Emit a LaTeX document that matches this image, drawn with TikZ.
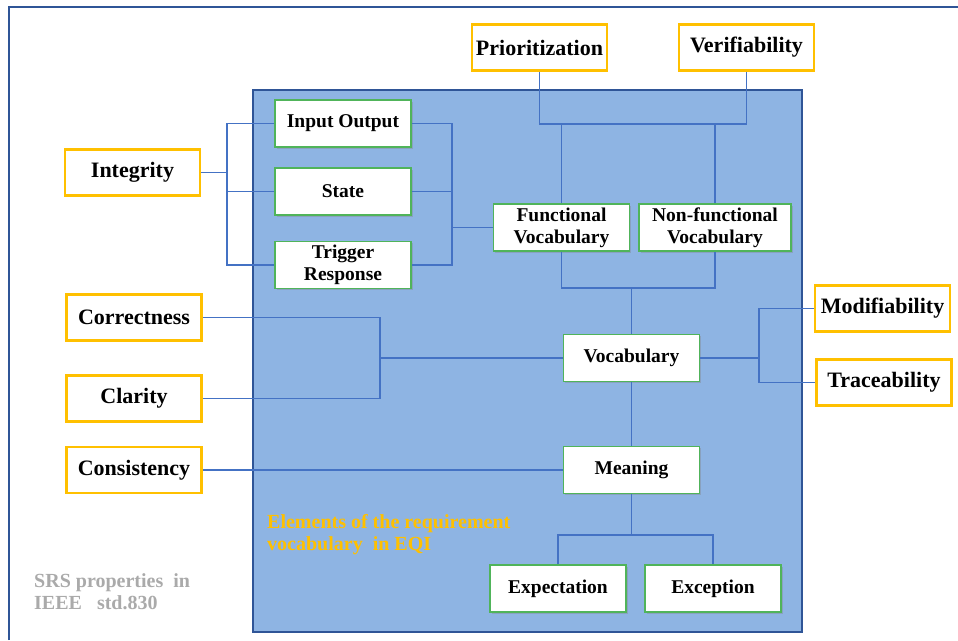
\documentclass[tikz,border=0pt]{standalone}
\usepackage{fontspec}
\setmainfont{Liberation Serif}
\usetikzlibrary{shadows}

\definecolor{propline}{RGB}{255,192,0}
\definecolor{elemline}{RGB}{80,180,90}
\definecolor{eqifill}{RGB}{142,180,227}
\definecolor{eqiline}{RGB}{47,85,151}
\definecolor{linkcol}{RGB}{68,114,196}
\definecolor{srsgray}{RGB}{170,170,170}

\begin{document}
\begin{tikzpicture}[x=1pt,y=-1pt,
                    propbox/.style={rectangle,
                                    draw=propline, line width=2.5pt,
                                    fill=white,
                                    minimum width=135pt, minimum height=46pt,
                                    inner sep=0pt,
                                    font=\fontsize{22}{24}\selectfont\bfseries
                                    },
                    elembox/.style={rectangle,
                                    draw=elemline, line width=1.6pt,
                                    fill=white,
                                    drop shadow={shadow xshift=1.5pt,shadow yshift=-1.5pt,opacity=0.35},
                                    minimum width=136pt, minimum height=47pt,
                                    inner sep=0pt, align=center,
                                    font=\fontsize{19.5}{22}\selectfont\bfseries
                                    },
                    link/.style={
                                    draw=linkcol,
                                    line width=1.4pt
                                    }
                     ]
\useasboundingbox (0,0) rectangle (958,640);
% frame and EQI area
\draw[eqiline, line width=2.2pt] (9,640) |- (958,7);
\draw[eqiline, line width=2.5pt, fill=eqifill] (253,90) rectangle (802,632);

% SRS properties
\node[propbox] (prio) at (539.5,47.5) {Prioritization};
\node[propbox] (verif) at (746.5,47.5) {Verifiability};
\node[propbox] (integ) at (132.5,172.5) {Integrity};
\node[propbox] (correct) at (134,317.5) {Correctness};
\node[propbox] (clarity) at (134,398.5) {Clarity};
\node[propbox] (consist) at (134,470) {Consistency};
\node[propbox] (modif) at (882.5,308.5) {Modifiability};
\node[propbox] (trace) at (884,382.5) {Traceability};

% vocabulary elements
\node[elembox] (inout) at (343,123.5) {Input Output};
\node[elembox] (state) at (343,191.5) {State};
\node[elembox] (trigresp) at (343,265) {Trigger\\Response};
\node[elembox] (func) at (561.5,227.5) {Functional\\Vocabulary};
\node[elembox,minimum width=152pt] (nonfunc) at (715,227.5) {Non-functional\\Vocabulary};
\node[elembox] (vocab) at (631.5,358) {Vocabulary};
\node[elembox] (meaning) at (631.5,470) {Meaning};
\node[elembox] (expect) at (558,588.5) {Expectation};
\node[elembox] (except) at (713,588.5) {Exception};

\node[anchor=north west,align=left,text=propline,inner sep=0pt,
      font=\fontsize{20}{22}\selectfont\bfseries] (eqilabel) at (267,514)
      {Elements of the requirement\\vocabulary~ in EQI};
\node[anchor=north west,align=left,text=srsgray,inner sep=0pt,
      font=\fontsize{20}{22}\selectfont\bfseries] (srslabel) at (34,573)
      {SRS properties~ in\\IEEE~~ std.830};

% bus points
\coordinate (ibus) at (227,172.5);
\coordinate (fbus) at (452,227.5);
\coordinate (pvbus) at (643,124);
\coordinate (fnbus) at (631.5,288);
\coordinate (ccbus) at (380,358);
\coordinate (mtbus) at (759,358);
\coordinate (mbus) at (631.5,535);

% connectors
\draw[link] (integ.east) -- (ibus);
\draw[link] (inout.west) -| (ibus) |- (trigresp.west);
\draw[link] (state.west) -- (state.west -| ibus);
\draw[link] (func.west) -- (fbus);
\draw[link] (inout.east) -| (fbus) |- (trigresp.east);
\draw[link] (state.east) -- (state.east -| fbus);
\draw[link] (prio.south) |- (pvbus) -| (verif.south);
\draw[link] (func.north) -- (func.north |- pvbus);
\draw[link] (nonfunc.north) -- (nonfunc.north |- pvbus);
\draw[link] (func.south) |- (fnbus) -| (nonfunc.south);
\draw[link] (fnbus) -- (vocab.north);
\draw[link] (correct.east) -| (ccbus) |- (clarity.east);
\draw[link] (ccbus) -- (vocab.west);
\draw[link] (vocab.east) -- (mtbus);
\draw[link] (modif.west) -| (mtbus) |- (trace.west);
\draw[link] (vocab.south) -- (meaning.north);
\draw[link] (consist.east) -- (meaning.west);
\draw[link] (meaning.south) -- (mbus);
\draw[link] (expect.north) |- (mbus) -| (except.north);
\end{tikzpicture}
\end{document}
